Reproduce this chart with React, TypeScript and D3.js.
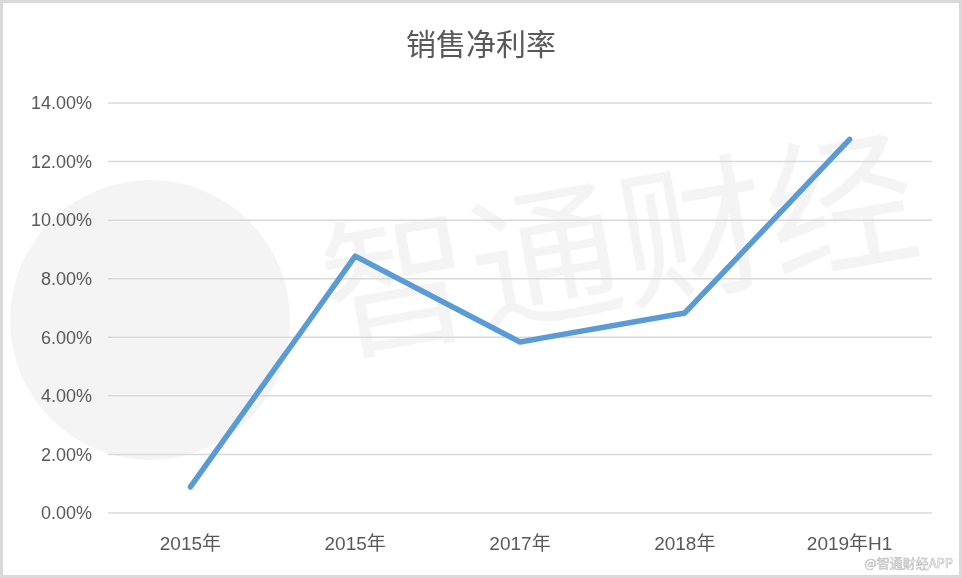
import React from "react";
import * as d3 from "d3";

const categories = ["2015年", "2015年", "2017年", "2018年", "2019年H1"];
const values = [0.0089, 0.0877, 0.0584, 0.0683, 0.1276];
const yTicks = [0, 0.02, 0.04, 0.06, 0.08, 0.1, 0.12, 0.14];
const title = "销售净利率";

const W = 962;
const H = 578;
const margin = { left: 108, right: 30, top: 103, bottom: 65 };

export default function App() {
  const x = d3
    .scaleBand<number>()
    .domain(categories.map((_, i) => i))
    .range([margin.left, W - margin.right]);
  const y = d3.scaleLinear().domain([0, 0.14]).range([H - margin.bottom, margin.top]);
  const line = d3
    .line<number>()
    .x((_, i) => (x(i) as number) + x.bandwidth() / 2)
    .y((d) => y(d));
  const fmt = d3.format(".2%");
  const font = "'Liberation Sans', 'Noto Sans CJK SC', sans-serif";
  return (
    <div style={{ position: "fixed", left: 0, top: 0 }}>
      <svg width={W} height={H} style={{ display: "block" }}>
        <rect x={0} y={0} width={W} height={H} fill="#ffffff" />
        <rect x={1.5} y={1.5} width={W - 3} height={H - 3} fill="none" stroke="#d9d9d9" strokeWidth={3} />
        {/* watermark */}
        <g opacity={0.045}>
          <circle cx={150} cy={320} r={140} fill="#000" />
          <text
            x={620}
            y={300}
            fontSize={150}
            fontFamily="'Noto Sans CJK SC', sans-serif"
            textAnchor="middle"
            fill="#000"
            transform="rotate(-10 620 250)"
          >
            智通财经
          </text>
        </g>
        <text
          x={W / 2}
          y={55}
          textAnchor="middle"
          fontSize={30}
          fill="#595959"
          fontFamily="'Noto Sans CJK SC', sans-serif"
        >
          {title}
        </text>
        {yTicks.map((t) => (
          <g key={t}>
            <line
              x1={margin.left}
              x2={W - margin.right}
              y1={y(t)}
              y2={y(t)}
              stroke="#d9d9d9"
              strokeWidth={1.5}
            />
            <text
              x={92}
              y={y(t)}
              dy="0.35em"
              textAnchor="end"
              fontSize={18}
              fill="#595959"
              fontFamily={font}
            >
              {fmt(t)}
            </text>
          </g>
        ))}
        {categories.map((c, i) => (
          <text
            key={i}
            x={(x(i) as number) + x.bandwidth() / 2}
            y={550}
            textAnchor="middle"
            fontSize={19}
            fill="#595959"
            fontFamily={font}
          >
            {c}
          </text>
        ))}
        <path
          d={line(values) || ""}
          fill="none"
          stroke="#5b9bd5"
          strokeWidth={5.5}
          strokeLinecap="round"
          strokeLinejoin="round"
        />
        <text
          x={953}
          y={568}
          textAnchor="end"
          fontSize={13}
          fill="#ffffff"
          stroke="#bbbbbb"
          strokeWidth={0.6}
          fontFamily="'Noto Sans CJK SC', sans-serif"
        >
          @智通财经APP
        </text>
      </svg>
    </div>
  );
}
